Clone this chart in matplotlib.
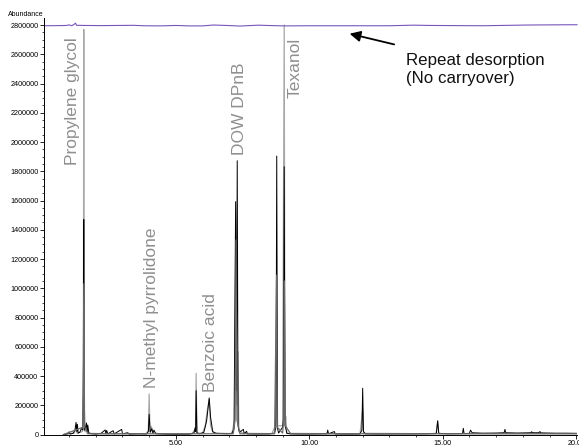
import numpy as np
import matplotlib
matplotlib.use('Agg')
import matplotlib.pyplot as plt
from matplotlib.ticker import MultipleLocator, FormatStrFormatter, AutoMinorLocator

plt.rcParams['font.family'] = ['Liberation Sans', 'DejaVu Sans']

# sample run (black trace): retention time (min) / abundance
bk_t = [0.78, 0.95, 1.00, 1.04, 1.15, 1.22, 1.26, 1.29, 1.31, 1.34,
        1.40, 1.46, 1.52, 1.54, 1.55, 1.56, 1.58, 1.62, 1.65, 1.68,
        1.70, 1.74, 1.85, 2.00, 2.20, 2.35, 2.38, 2.41, 2.45, 2.65,
        2.69, 2.97, 3.00, 3.20, 3.25, 3.60, 3.90, 3.97, 4.00, 4.04,
        4.10, 4.14, 4.18, 4.25, 4.60, 5.00, 5.50, 5.68, 5.72, 5.74,
        5.76, 5.79, 5.90, 6.05, 6.15, 6.22, 6.25, 6.30, 6.38, 6.50,
        6.90, 7.10, 7.18, 7.24, 7.27, 7.30, 7.33, 7.38, 7.53, 7.56,
        7.65, 7.68, 8.00, 8.50, 8.70, 8.75, 8.78, 8.81, 8.85, 9.00,
        9.03, 9.06, 9.09, 9.12, 9.16, 9.30, 9.60, 10.00, 10.40, 10.66,
        10.69, 10.72, 10.94, 10.97, 11.40, 11.90, 11.97, 12.00, 12.03, 12.10,
        12.60, 13.20, 13.80, 14.40, 14.76, 14.81, 14.85, 15.20, 15.74, 15.77,
        15.80, 16.00, 16.04, 16.10, 16.50, 17.00, 17.30, 17.33, 17.36, 17.80,
        18.30, 18.33, 18.36, 18.60, 18.64, 18.68, 19.20, 19.60, 20.03]
bk_v = [0, 5000, 18000, 3000, 8000, 30000, 83000, 20000, 70000, 10000,
        15000, 40000, 30000, 500000, 1470000, 400000, 30000, 50000, 79000, 20000,
        65000, 10000, 5000, 3000, 8000, 31000, 5000, 28000, 4000, 26000,
        4000, 35000, 5000, 12000, 3000, 5000, 4000, 20000, 138000, 15000,
        40000, 10000, 30000, 5000, 3000, 2000, 3000, 10000, 45000, 20000,
        300000, 10000, 5000, 15000, 90000, 200000, 250000, 120000, 20000, 8000,
        5000, 8000, 40000, 1592000, 300000, 1872000, 60000, 15000, 35000, 5000,
        22000, 4000, 3000, 4000, 10000, 50000, 1904000, 40000, 10000, 50000,
        100000, 1831000, 60000, 40000, 8000, 4000, 3000, 3000, 4000, 5000,
        30000, 5000, 20000, 4000, 3000, 4000, 30000, 316000, 20000, 4000,
        3000, 4000, 4000, 5000, 8000, 94000, 8000, 5000, 6000, 42000,
        6000, 8000, 30000, 12000, 9000, 10000, 12000, 35000, 12000, 10000,
        12000, 19000, 12000, 12000, 20000, 11000, 9000, 9000, 8000]

# overlaid run (light grey trace)
lg_t = [0.80, 1.20, 1.27, 1.30, 1.50, 1.535, 1.55, 1.565, 1.60, 1.66,
        1.72, 2.50, 3.90, 3.97, 4.00, 4.03, 4.08, 4.13, 4.50, 5.60,
        5.70, 5.74, 5.76, 5.79, 6.00, 6.10, 6.20, 6.25, 6.30, 6.40,
        7.10, 7.20, 7.24, 7.28, 7.33, 7.36, 7.50, 8.60, 8.72, 8.75,
        8.78, 8.81, 9.00, 9.06, 9.09, 9.12, 9.16, 11.90, 12.00, 12.03,
        14.75, 14.81, 14.85, 16.00, 20.03]
lg_v = [0, 10000, 53000, 8000, 20000, 300000, 2770000, 200000, 20000, 50000,
        8000, 5000, 5000, 30000, 277000, 20000, 55000, 10000, 4000, 4000,
        30000, 20000, 418000, 10000, 8000, 60000, 190000, 240000, 60000, 10000,
        6000, 100000, 1207000, 200000, 566000, 30000, 8000, 6000, 58000, 100000,
        830000, 60000, 60000, 2800000, 100000, 122000, 8000, 4000, 168000, 8000,
        5000, 90000, 5000, 6000, 6000]

# third run (dark grey trace)
dg_t = [0.80, 1.52, 1.55, 1.58, 1.70, 7.15, 7.22, 7.255, 7.29, 7.40,
        8.70, 8.775, 8.80, 9.00, 9.04, 9.065, 9.10, 9.30, 20.03]
dg_v = [0, 50000, 1030000, 50000, 5000, 5000, 100000, 1330000, 100000, 5000,
        5000, 1090000, 50000, 10000, 100000, 1050000, 60000, 5000, 5000]

# repeat desorption (purple trace)
pu_t = [0.10, 0.60, 0.90, 1.00, 1.10, 1.20, 1.24, 1.28, 1.60, 2.20,
        2.80, 3.40, 3.80, 4.40, 5.00, 5.50, 6.00, 6.40, 6.90, 7.40,
        8.10, 8.60, 9.10, 10.00, 12.00, 13.00, 13.90, 14.60, 15.50, 16.50,
        17.50, 18.20, 19.00, 20.03]
pu_v = [2795000, 2796000, 2797000, 2801000, 2795000, 2806000, 2813000, 2798000, 2797000, 2796000,
        2797000, 2798000, 2795000, 2794000, 2797000, 2794000, 2794000, 2800000, 2797000, 2793000,
        2799000, 2796000, 2794000, 2795000, 2795000, 2795000, 2799000, 2797000, 2796000, 2795000,
        2798000, 2800000, 2801000, 2802000]

peak_names = ['Propylene glycol', 'N-methyl pyrrolidone', 'Benzoic acid', 'DOW DPnB', 'Texanol']
label_t = [1.13, 4.09, 6.30, 7.37, 9.46]
label_v = [1843000, 318000, 290000, 1911000, 2300000]

fig = plt.figure(figsize=(5.79, 4.48), dpi=100)
ax = fig.add_axes([44 / 579, 13.5 / 448, 533 / 579, 416.5 / 448])

ax.plot(lg_t, lg_v, color='#a8a8a8', lw=0.9)
ax.plot(bk_t, bk_v, color='black', lw=0.7)
ax.plot(dg_t, dg_v, color='#6a6a6a', lw=0.9)
ax.plot(pu_t, pu_v, color='#7755bb', lw=0.8, clip_on=False)

for name, t, v in zip(peak_names, label_t, label_v):
    ax.text(t, v, name, rotation=90, ha='center', va='bottom',
            fontsize=12.5, color='#8f8f8f')

ax.annotate('', xy=(11.41, 2745000), xytext=(13.28, 2663000),
            arrowprops=dict(arrowstyle='-|>', color='black', lw=1.3, mutation_scale=16))
ax.text(13.63, 2610000, 'Repeat desorption\n(No carryover)', ha='left', va='top',
        fontsize=12.2, color='#111111', linespacing=1.25)

ax.set_xlim(0.06, 20.03)
ax.set_ylim(0, 2848000)
ax.xaxis.set_major_locator(MultipleLocator(5))
ax.xaxis.set_minor_locator(MultipleLocator(1))
ax.xaxis.set_major_formatter(FormatStrFormatter('%.2f'))
ax.yaxis.set_major_locator(MultipleLocator(200000))
ax.yaxis.set_minor_locator(AutoMinorLocator(4))
ax.yaxis.set_major_formatter(FormatStrFormatter('%d'))
ax.tick_params(which='major', length=3, width=0.6, labelsize=5.2, pad=1)
ax.tick_params(which='minor', length=1.6, width=0.5)
ax.spines['top'].set_visible(False)
ax.spines['right'].set_visible(False)
ax.spines['left'].set_linewidth(0.7)
ax.spines['bottom'].set_linewidth(0.7)

fig.text(8 / 579, 1 - 15 / 448, 'Abundance', fontsize=5, va='center', ha='left')

fig.savefig('out.png', dpi=100)
